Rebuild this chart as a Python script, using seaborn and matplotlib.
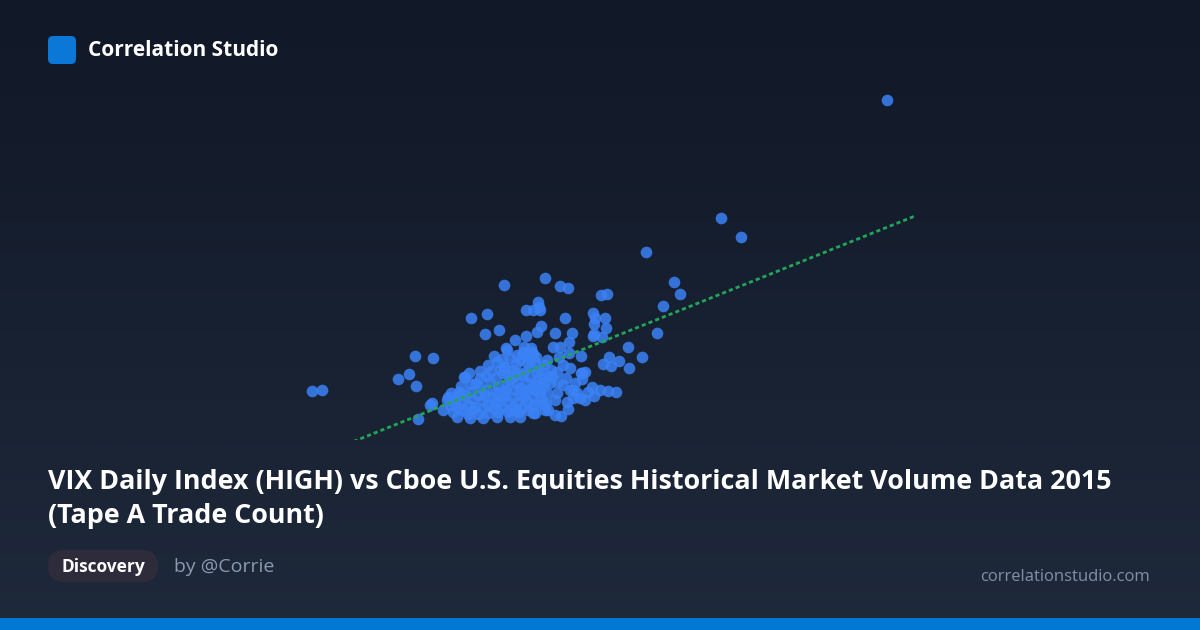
import numpy as np
import pandas as pd
import matplotlib.pyplot as plt
import seaborn as sns
from matplotlib.patches import FancyBboxPatch, Rectangle
from matplotlib.colors import LinearSegmentedColormap

# Tape A trade count (thousands) vs VIX daily high, 2015
trade_count = [
    4935, 4105, 4205, 3730, 3870, 3900, 3815, 3785, 3225, 3020, 3300, 3340, 3505, 3535,
    3190, 3195, 3130, 3165, 3200, 2855, 2935, 3325, 3465, 3475, 3525, 3470, 3530, 3465,
    3510, 3470, 2925, 2995, 3205, 3185, 3130, 3075, 3275, 3360, 3345, 3640, 3710, 3645,
    3595, 3545, 3515, 3555, 3540, 3580, 3405, 3425, 3410, 3410, 3460, 3470, 3425, 3400,
    3335, 3340, 3305, 3230, 3195, 3175, 3030, 3120, 3155, 3265, 3300, 2970, 3010, 3115,
    3165, 3175, 3235, 3295, 3345, 3220, 3255, 3315, 3350, 3020, 3015, 2900, 2955, 2845,
    2820, 2900, 3080, 3115, 3150, 3210, 3285, 3315, 2755, 2795, 3215, 3185,
    2060, 2110, 2575, 2665, 2490, 2545, 2580, 2650, 2660, 2590,
    3035, 3115, 2825, 3000, 3025, 3080, 3135, 3065, 3110, 3185, 2850, 2900, 2950, 2990,
    3035, 3085, 3135, 2735, 2775, 2815, 2865, 2915, 2965, 3015, 3065, 3115, 3165, 2715,
    2765, 2815, 2865, 2915, 2965, 3015, 3065, 3115, 3165, 2785, 2850, 2915, 2985, 3050,
    3100, 3165, 3350, 3365, 3385, 3285, 3235, 3250, 3180, 3160, 3215, 3405,
    2750, 2800, 2840, 2890, 2940, 2990, 3040, 3090, 3140, 2740, 2790, 2840, 2890, 2940,
    2990, 3040, 3090, 3140, 3200, 3225, 2880, 2930, 2980, 3030, 3080, 3130, 2930, 2980,
    3050, 3100, 3160, 3200, 3225, 3260, 3285, 2940, 2985, 3050, 3085, 3135, 3200, 3240,
    3330, 3375, 3440, 3500, 3365, 3275, 3240, 3275, 2805, 2855, 2775, 2825, 2875, 2925,
    2975, 3025, 3075, 3125, 3175, 3150, 3185, 3065, 3040, 3100,
]
vix_high = [
    44.0, 32.2, 30.3, 28.8, 25.8, 24.6, 23.4, 20.7, 26.2, 25.5, 25.4, 25.2, 24.5, 24.6,
    23.8, 23.3, 23.0, 23.0, 23.0, 22.2, 22.6, 22.2, 22.7, 22.2, 22.2, 21.6, 21.2, 20.4,
    20.3, 20.6, 20.6, 21.0, 21.4, 20.8, 20.4, 20.0, 20.7, 20.7, 19.8, 19.3, 18.3, 17.2,
    17.9, 18.3, 17.6, 17.4, 14.9, 14.8, 18.4, 16.8, 16.1, 16.7, 15.3, 14.4, 14.0, 14.2,
    13.8, 13.1, 12.4, 13.7, 13.6, 12.7, 19.2, 19.3, 19.2, 19.3, 19.3, 18.4, 18.1, 18.6,
    18.6, 17.8, 18.0, 18.3, 18.7, 17.5, 17.0, 17.5, 17.2, 17.3, 16.7, 16.9, 16.9, 16.7,
    16.3, 16.2, 16.7, 16.7, 16.3, 16.2, 15.8, 15.5, 14.7, 14.8, 15.3, 15.5,
    14.9, 15.0, 18.4, 18.2, 16.1, 16.6, 15.4, 13.5, 13.7, 12.1,
    19.0, 18.8, 16.3, 17.0, 17.3, 17.6, 17.7, 16.3, 16.5, 16.0, 14.8, 15.3, 15.8, 15.3,
    15.5, 15.7, 15.7, 14.0, 13.7, 14.0, 14.0, 14.0, 14.3, 14.3, 14.3, 14.3, 14.3, 13.0,
    12.8, 13.0, 13.0, 13.2, 13.2, 13.2, 13.3, 13.3, 13.5, 12.3, 12.2, 12.2, 12.3, 12.3,
    12.3, 12.7, 15.0, 15.0, 14.7, 14.7, 14.7, 15.7, 18.3, 18.8, 13.7, 16.7,
    13.5, 14.5, 13.5, 14.5, 13.5, 13.8, 13.8, 13.8, 13.8, 14.3, 13.2, 12.6, 12.6, 12.7,
    12.8, 12.8, 12.8, 13.0, 14.3, 13.0, 15.7, 15.0, 14.8, 15.0, 15.0, 15.0, 16.4, 16.2,
    16.0, 15.2, 15.2, 14.8, 15.8, 16.4, 16.8, 17.5, 17.8, 18.2, 18.5, 18.3, 17.0, 16.4,
    16.2, 15.7, 14.8, 15.0, 14.2, 14.0, 13.0, 12.5, 15.4, 15.6, 14.2, 14.5, 13.3, 14.5,
    13.8, 14.5, 13.0, 14.5, 15.0, 17.3, 16.8, 17.0, 16.5, 18.0,
]

# trend line end points
trend_x = [2000, 5075]
trend_y = [7.7, 32.4]

title_lines = ["VIX Daily Index (HIGH) vs Cboe U.S. Equities Historical Market Volume Data 2015",
               "(Tape A Trade Count)"]
brand = "Correlation Studio"
tag = "Discovery"
author = "by @Corrie"
site = "correlationstudio.com"

df = pd.DataFrame({"trade_count": trade_count, "vix_high": vix_high})

sns.set_theme(style="white")
plt.rcParams['font.family'] = ['Open Sans', 'DejaVu Sans']

fig = plt.figure(figsize=(12, 6.3), dpi=100)

# background gradient + card decorations, in pixel coords
bg = fig.add_axes([0, 0, 1, 1], zorder=0)
bg.set_xlim(0, 1200)
bg.set_ylim(630, 0)
bg.axis("off")
grad = np.linspace(0, 1, 256).reshape(-1, 1)
cmap = LinearSegmentedColormap.from_list("bg", ["#111827", "#1e293b"])
bg.imshow(grad, cmap=cmap, aspect="auto", extent=[0, 1200, 630, 0])

bg.add_patch(FancyBboxPatch((48, 36), 28, 28, boxstyle="round,pad=0,rounding_size=5",
                            fc="#0b78d7", ec="none"))
bg.text(88, 51, brand, color="white", fontsize=15, fontweight="bold", va="center")

bg.text(48, 482, title_lines[0], color="white", fontsize=19.4, fontweight="bold", va="center")
bg.text(48, 516, title_lines[1], color="white", fontsize=19.4, fontweight="bold", va="center")

bg.add_patch(FancyBboxPatch((48, 550), 110, 32, boxstyle="round,pad=0,rounding_size=16",
                            fc="#2e2b3b", ec="none"))
bg.text(103, 567, tag, color="white", fontsize=12.5, fontweight="bold", va="center", ha="center")
bg.text(174, 567, author, color="#8b9ab2", fontsize=14, va="center")
bg.text(1150, 577, site, color="#8290a7", fontsize=12, va="center", ha="right")

bg.add_patch(Rectangle((0, 618), 1200, 12, fc="#0078d4", ec="none"))

# the scatter itself
ax = fig.add_axes([0.25, 190 / 630, 620 / 1200, 360 / 630], zorder=1)
ax.patch.set_alpha(0)
sns.scatterplot(data=df, x="trade_count", y="vix_high", ax=ax, s=70,
                color="#3b82f6", alpha=0.85, linewidth=0, clip_on=False)
ax.plot(trend_x, trend_y, color="#22a559", lw=2, linestyle=(0, (1.5, 1.1)))
ax.set_xlim(2000, 5100)
ax.set_ylim(10, 46)
ax.axis("off")

fig.savefig("out.png", dpi=100)
